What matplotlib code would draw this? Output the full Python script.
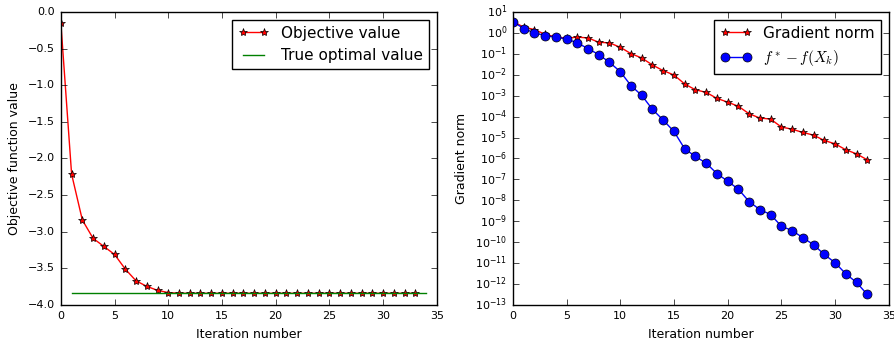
import numpy as np
import matplotlib
matplotlib.use("Agg")
import matplotlib.pyplot as plt

plt.style.use("classic")

iterations = list(range(34))
objective = [-0.15, -2.214, -2.84, -3.09, -3.20, -3.31, -3.51, -3.67, -3.745, -3.80,
             -3.83, -3.84, -3.84, -3.84, -3.84, -3.84, -3.84, -3.84, -3.84, -3.84,
             -3.84, -3.84, -3.84, -3.84, -3.84, -3.84, -3.84, -3.84, -3.84, -3.84,
             -3.84, -3.84, -3.84, -3.84]
optimal_x = [1, 34]
optimal_value = -3.84

grad_norm = [3.4, 1.9, 1.43, 0.85, 0.64, 0.55, 0.62, 0.57, 0.354, 0.33,
             0.204, 0.101, 0.063, 0.029, 0.0156, 0.0097, 0.0036, 0.0019, 0.00143, 7.4e-4,
             4.9e-4, 3.1e-4, 1.36e-4, 8.5e-5, 7.6e-5, 3.16e-5, 2.5e-5, 1.74e-5, 1.3e-5, 7.2e-6,
             5.0e-6, 2.6e-6, 1.66e-6, 8.6e-7]
gap = [3.44, 1.6, 0.99, 0.74, 0.62, 0.51, 0.33, 0.176, 0.091, 0.039,
       0.014, 0.003, 0.00103, 2.2e-4, 6.8e-5, 1.95e-5, 2.9e-6, 1.24e-6, 5.96e-7, 1.9e-7,
       8.2e-8, 3.4e-8, 8.7e-9, 3.6e-9, 2.1e-9, 5.8e-10, 3.6e-10, 1.65e-10, 7.6e-11, 2.6e-11,
       1.05e-11, 3.1e-12, 1.2e-12, 3.2e-13]

fig = plt.figure(figsize=(8.95, 3.49), dpi=100, facecolor="white")
ax1 = fig.add_axes([0.068, 0.126, 0.420, 0.840])
ax2 = fig.add_axes([0.573, 0.126, 0.420, 0.840])

ax1.plot(iterations, objective, "r-*", markersize=6, label="Objective value")
ax1.plot(optimal_x, [optimal_value, optimal_value], "g-", label="True optimal value")
ax1.set_xlim(0, 35)
ax1.set_ylim(-4, 0)
ax1.set_xlabel("Iteration number", fontsize=9)
ax1.set_ylabel("Objective function value", fontsize=9)
ax1.tick_params(labelsize=8)
ax1.legend(loc="upper right", fontsize=11)

ax2.semilogy(iterations, grad_norm, "r-*", markersize=6, label="Gradient norm")
ax2.semilogy(iterations, gap, "b-o", markersize=6.5, label=r"$f^* - f(X_k)$")
ax2.set_xlim(0, 35)
ax2.set_ylim(1e-13, 1e1)
ax2.set_yticks([10.0 ** k for k in range(-13, 2)])
ax2.minorticks_off()
ax2.set_xlabel("Iteration number", fontsize=9)
ax2.set_ylabel("Gradient norm", fontsize=9)
ax2.tick_params(labelsize=8)
ax2.legend(loc="upper right", fontsize=11)

fig.savefig("out.png", dpi=100, facecolor="white")
